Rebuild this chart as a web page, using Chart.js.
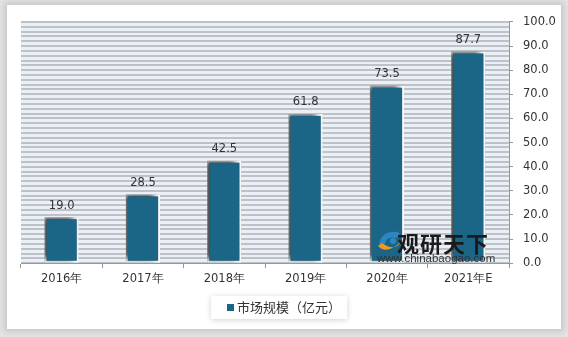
<!DOCTYPE html>
<html>
<head>
<meta charset="utf-8">
<script src="https://cdn.jsdelivr.net/npm/chart.js@4.4.0/dist/chart.umd.min.js"></script>
<style>
  body { margin: 0; background: #e4e4e4; width: 568px; height: 337px; overflow: hidden; }
  #card {
    position: absolute; left: 7px; top: 5px; width: 554px; height: 324px;
    background: #fff; box-shadow: 0 0 6px 3px rgba(0,0,0,0.12);
  }
  #mark { position: absolute; left: 376px; top: 228px; width: 130px; height: 40px; pointer-events: none; }
  #mark .t { position: absolute; left: 21px; top: -2px; font: bold 22px "Noto Sans CJK SC"; color: #1a1a1a; letter-spacing: 1px; }
  #mark .u { position: absolute; left: 1px; top: 24px; font: 11.5px "Liberation Sans"; color: #333; }
</style>
</head>
<body>
<div id="card"><canvas id="c" width="554" height="324"></canvas></div>
<div id="mark">
  <svg width="28" height="26" style="position:absolute;left:0;top:0">
    <path d="M3 16 Q6 2 22 4 Q26 8 20 10 Q10 8 9 16 Z" fill="#2c86c2"/>
    <path d="M2 18 Q10 27 25 14 Q18 24 6 15 Z" fill="#f39a1e"/>
    <circle cx="17" cy="13" r="3" fill="#2c86c2"/>
  </svg>
  <div class="t">观研天下</div>
  <div class="u">www.chinabaogao.com</div>
</div>
<script>
// Data
const categories = ["2016年", "2017年", "2018年", "2019年", "2020年", "2021年E"];
const marketSize = [19.0, 28.5, 42.5, 61.8, 73.5, 87.7];
const seriesName = "市场规模（亿元）";
const yMin = 0, yMax = 100, yStep = 10;

const barColor = "#1b6587";
const numFont = "DejaVu Sans";

// striped plot background
const stripes = {
  id: "stripes",
  beforeDraw(chart) {
    const { ctx, chartArea: a, scales: { y } } = chart;
    ctx.save();
    ctx.fillStyle = "#eaf0f5";
    ctx.fillRect(a.left, a.top, a.right - a.left, a.bottom - a.top);
    ctx.fillStyle = "#bcc2c8";
    for (let v = yMin; v <= yMax; v += 2) {
      const py = y.getPixelForValue(v);
      ctx.fillRect(a.left, Math.round(py) - 1, a.right - a.left, 2);
    }
    ctx.restore();
  }
};

// bar shadow
const barShadow = {
  id: "barShadow",
  beforeDatasetsDraw(chart) {
    const ctx = chart.ctx;
    ctx.save();
    ctx.shadowColor = "rgba(0,0,0,0.75)";
    ctx.shadowBlur = 6;
    ctx.shadowOffsetX = -4;
    ctx.shadowOffsetY = -2;
  },
  afterDatasetsDraw(chart) {
    chart.ctx.restore();
  }
};

// value labels
const valueLabels = {
  id: "valueLabels",
  afterDatasetsDraw(chart) {
    const ctx = chart.ctx;
    const meta = chart.getDatasetMeta(0);
    ctx.save();
    ctx.font = '11.5px "' + numFont + '"';
    ctx.fillStyle = "#333";
    ctx.textAlign = "center";
    ctx.textBaseline = "bottom";
    meta.data.forEach((bar, i) => {
      ctx.fillText(marketSize[i].toFixed(1), bar.x, bar.y - 6);
    });
    ctx.restore();
  }
};

// legend in a shadowed white box
const boxLegend = {
  id: "boxLegend",
  afterDraw(chart) {
    const ctx = chart.ctx;
    const ds = chart.data.datasets[0];
    ctx.save();
    ctx.shadowColor = "rgba(0,0,0,0.18)";
    ctx.shadowBlur = 6;
    ctx.shadowOffsetY = 1;
    ctx.fillStyle = "#fff";
    ctx.fillRect(204, 291, 136, 23);
    ctx.restore();
    ctx.save();
    ctx.fillStyle = ds.backgroundColor;
    ctx.fillRect(220, 299, 7, 7);
    ctx.font = '13px "Noto Sans CJK SC"';
    ctx.fillStyle = "#333";
    ctx.textBaseline = "middle";
    ctx.fillText(ds.label, 230, 302.5);
    ctx.restore();
  }
};

new Chart(document.getElementById("c"), {
  type: "bar",
  data: {
    labels: categories,
    datasets: [{
      label: seriesName,
      data: marketSize,
      backgroundColor: barColor,
      borderColor: "#ffffff",
      borderWidth: 2,
      borderSkipped: false,
      barPercentage: 0.42,
      categoryPercentage: 1
    }]
  },
  options: {
    responsive: false,
    animation: false,
    layout: { padding: { left: 14, top: 14, right: 0, bottom: 39 } },
    plugins: {
      tooltip: { enabled: false },
      legend: { display: false }
    },
    scales: {
      x: {
        offset: true,
        grid: { display: true, drawOnChartArea: false, offset: true, tickLength: 5, color: "#999" },
        border: { color: "#999" },
        ticks: { color: "#333", font: { family: numFont, size: 11.5 }, padding: 4 }
      },
      y: {
        position: "right",
        min: yMin,
        max: yMax,
        grid: { drawOnChartArea: false, tickLength: 4, color: "#999" },
        border: { color: "#999" },
        ticks: {
          stepSize: yStep,
          color: "#333",
          font: { family: numFont, size: 11.5 },
          padding: 10,
          callback: v => v.toFixed(1)
        },
        afterFit: s => { s.width = 52; }
      }
    }
  },
  plugins: [stripes, barShadow, valueLabels, boxLegend]
});
</script>
</body>
</html>
